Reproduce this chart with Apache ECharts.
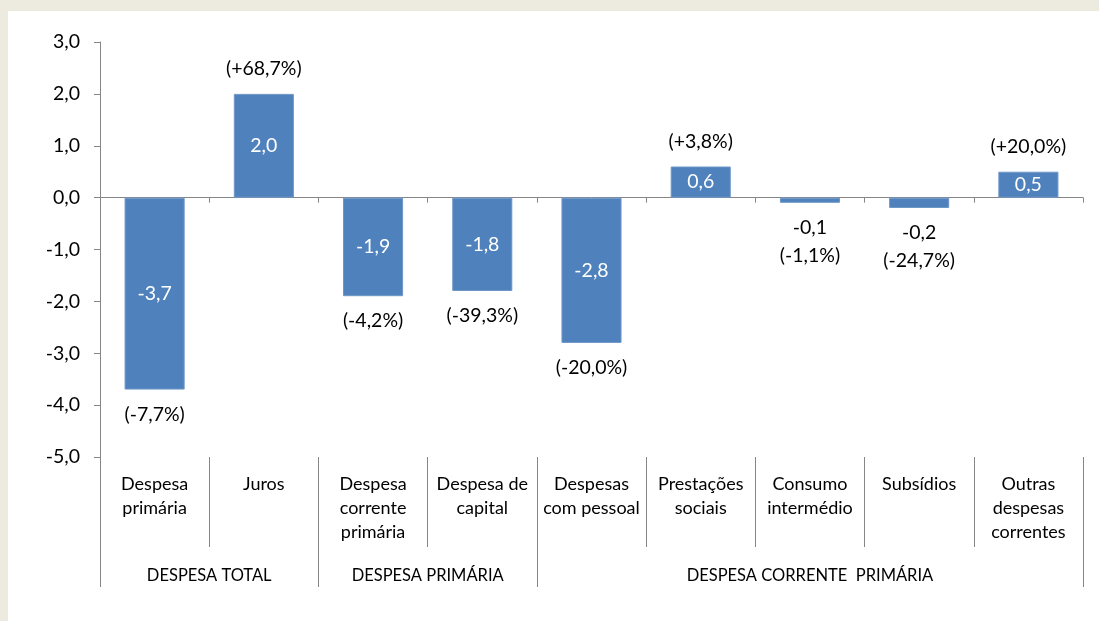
<!DOCTYPE html>
<html>
<head>
<meta charset="utf-8">
<script src="https://cdn.jsdelivr.net/npm/echarts@6/dist/echarts.min.js"></script>
<style>
  html, body { margin: 0; padding: 0; background: #EDEAE0; }
  #chart { position: absolute; left: 8px; top: 11px; width: 1091px; height: 610px; background: #fff; }
</style>
</head>
<body>
<div id="chart"></div>
<script>
var categorias = ["Despesa\nprimária", "Juros", "Despesa\ncorrente\nprimária", "Despesa de\ncapital",
  "Despesas\ncom pessoal", "Prestações\nsociais", "Consumo\nintermédio", "Subsídios", "Outras\ndespesas\ncorrentes"];
var valores = [-3.7, 2.0, -1.9, -1.8, -2.8, 0.6, -0.1, -0.2, 0.5];
var variacao = ["(-7,7%)", "(+68,7%)", "(-4,2%)", "(-39,3%)", "(-20,0%)", "(+3,8%)", "(-1,1%)", "(-24,7%)", "(+20,0%)"];
var grupos = ["DESPESA TOTAL", "DESPESA PRIMÁRIA", "DESPESA CORRENTE  PRIMÁRIA"];
var limitesGrupos = [0, 2, 4, 9];
var yTicks = [-5, -4, -3, -2, -1, 0, 1, 2, 3];

var fonte = "Lato";
var cinza = "#868686";
function virgula(v) { return v.toFixed(1).replace(".", ","); }

// centros dos grupos a partir dos limites
var centrosGrupos = [];
for (var i = 0; i < grupos.length; i++) {
  centrosGrupos.push((limitesGrupos[i] + limitesGrupos[i + 1]) / 2);
}

var myChart = echarts.init(document.getElementById("chart"));

var option = {
  animation: false,
  textStyle: { fontFamily: fonte },
  grid: { left: 92, right: 16, top: 31, bottom: 164 },
  xAxis: [
    {
      type: "category",
      data: categorias,
      axisLine: { onZero: true, lineStyle: { color: cinza, width: 1 } },
      axisTick: { show: true, length: 5, interval: 0, lineStyle: { color: cinza } },
      axisLabel: { show: false }
    },
    {
      type: "category",
      data: categorias,
      position: "bottom",
      axisLine: { show: false, onZero: false },
      axisTick: { show: true, length: 90, interval: 0, lineStyle: { color: cinza } },
      axisLabel: {
        interval: 0, margin: 15, color: "#000", fontSize: 18, lineHeight: 24,
        fontFamily: fonte, align: "center"
      }
    },
    {
      type: "value",
      min: 0, max: 9,
      position: "bottom",
      axisLine: { show: false, onZero: false },
      splitLine: { show: false },
      axisTick: { show: true, length: 130, customValues: limitesGrupos, lineStyle: { color: cinza } },
      axisLabel: {
        customValues: centrosGrupos, margin: 109, color: "#000", fontSize: 16.5, lineHeight: 20,
        fontFamily: fonte,
        formatter: function (v) {
          var k = centrosGrupos.indexOf(v);
          return k >= 0 ? grupos[k] : "";
        }
      }
    }
  ],
  yAxis: {
    type: "value",
    min: yTicks[0], max: yTicks[yTicks.length - 1], interval: 1,
    axisLine: { show: true, lineStyle: { color: cinza } },
    axisTick: { show: true, length: 6, lineStyle: { color: cinza } },
    splitLine: { show: false },
    axisLabel: { margin: 20, color: "#000", fontSize: 19.5, fontFamily: fonte, formatter: virgula }
  },
  series: [
    {
      type: "bar",
      xAxisIndex: 0,
      data: valores,
      barWidth: "55%",
      itemStyle: { color: "#4F81BD", borderColor: "#6E97C8", borderWidth: 1 },
      label: {
        show: true, position: "inside", color: "#fff", fontSize: 19.5, fontFamily: fonte,
        formatter: function (p) { return Math.abs(p.value) < 0.3 ? "" : virgula(p.value); }
      }
    },
    {
      type: "bar",
      xAxisIndex: 0,
      barGap: "-100%",
      barWidth: "55%",
      silent: true,
      itemStyle: { color: "rgba(0,0,0,0)" },
      data: valores.map(function (v) {
        return { value: v, label: { position: v >= 0 ? "top" : "bottom" } };
      }),
      label: {
        show: true, color: "#000", fontSize: 19.5, lineHeight: 28, distance: 11, fontFamily: fonte,
        formatter: function (p) {
          var txt = variacao[p.dataIndex];
          if (Math.abs(p.value) < 0.3 && p.value < 0) txt = virgula(p.value) + "\n" + txt;
          return txt;
        }
      }
    }
  ]
};

myChart.setOption(option);
</script>
</body>
</html>
